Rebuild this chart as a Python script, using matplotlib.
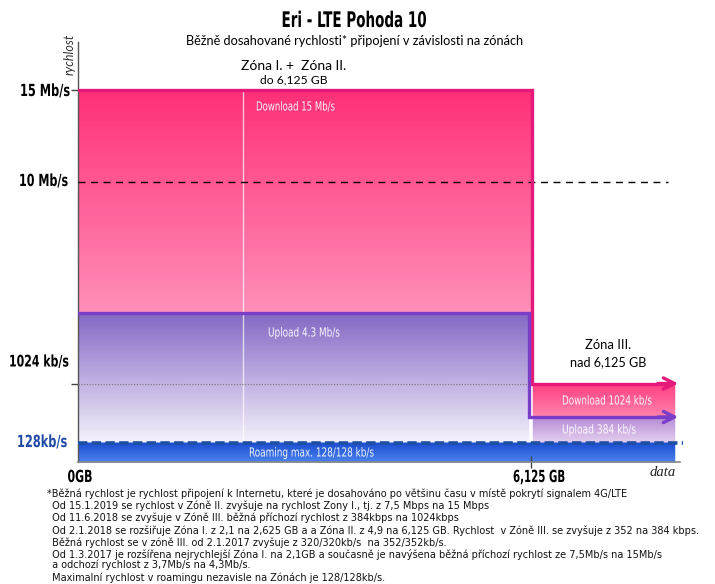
import os
import numpy as np
import matplotlib
matplotlib.use("Agg")
import matplotlib.pyplot as plt
import matplotlib.font_manager as fm
from matplotlib.colors import to_rgb
from matplotlib.patheffects import AbstractPathEffect
from matplotlib.transforms import Affine2D

# ---------------- data ----------------
zone_limit_gb = 6.125
zone12_download = 15000   # kb/s
zone12_upload = 4300      # kb/s
zone3_download = 1024     # kb/s
zone3_upload = 384        # kb/s
roaming = 128             # kb/s
ref_line_10 = 10000       # kb/s
ytick_values = [15000, 10000, 1024, 128]
ytick_labels = ["15 Mb/s", "10 Mb/s", "1024 kb/s", "128kb/s"]
footnotes = [
    "*Běžná rychlost je rychlost připojení k Internetu, které je dosahováno po většinu času v místě pokrytí signalem 4G/LTE",
    " Od 15.1.2019 se rychlost v Zóně II. zvyšuje na rychlost Zony I., tj. z 7,5 Mbps na 15 Mbps",
    " Od 11.6.2018 se zvyšuje v Zóně III. běžná příchozí rychlost z 384kbps na 1024kbps",
    " Od 2.1.2018 se rozšiřuje Zóna I. z 2,1 na 2,625 GB a a Zóna II. z 4,9 na 6,125 GB. Rychlost  v Zóně III. se zvyšuje z 352 na 384 kbps.",
    " Běžná rychlost se v zóně III. od 2.1.2017 zvyšuje z 320/320kb/s  na 352/352kb/s.",
    " Od 1.3.2017 je rozšířena nejrychlejší Zóna I. na 2,1GB a současně je navýšena běžná příchozí rychlost ze 7,5Mb/s na 15Mb/s",
    " a odchozí rychlost z 3,7Mb/s na 4,3Mb/s.",
    " Maximalní rychlost v roamingu nezavisle na Zónách je 128/128kb/s.",
]

# ---------------- fonts ----------------
COND_STRETCH = {"condensed", "semi-condensed", "extra-condensed", "ultra-condensed"}


def _weight(w):
    if isinstance(w, str):
        return fm.weight_dict.get(w, 400)
    return int(w)


def find_condensed(bold):
    prefs = ["dejavu", "roboto", "liberation", "open sans", "noto"]
    found = []
    for f in fm.fontManager.ttflist:
        n = f.name.lower()
        fn = os.path.basename(f.fname).lower()
        is_cond = ("condensed" in n or "narrow" in n or "cond" in fn or "narrow" in fn
                   or str(f.stretch) in COND_STRETCH)
        if not is_cond or f.style != "normal":
            continue
        w = _weight(f.weight)
        if bold and w < 600:
            continue
        if not bold and not (350 <= w <= 500):
            continue
        rank = next((i for i, p in enumerate(prefs) if p in n), len(prefs))
        found.append((rank, f.fname))
    if found:
        found.sort()
        return found[0][1]
    return None


cond_bold_file = find_condensed(True)
cond_reg_file = find_condensed(False)

# ---------------- figure ----------------
W, H = 715, 584
fig = plt.figure(figsize=(W / 100, H / 100), dpi=100)
fig.patch.set_facecolor("white")


def fx(x):
    return x / W


def fy(y):
    return 1 - y / H


ax_left, ax_right, ax_top, ax_bot = 78, 690, 42, 462
ax = fig.add_axes([fx(ax_left), fy(ax_bot), (ax_right - ax_left) / W, (ax_bot - ax_top) / H])

# piecewise scale of the original infographic
knot_v = np.array([0, 128, 384, 1024, 4300, 10000, 15000, 25000])
knot_p = np.array([0, 19, 45, 78.5, 149, 280, 372, 556])


def fwd(v):
    return np.interp(v, knot_v, knot_p)


def inv(p):
    return np.interp(p, knot_p, knot_v)


ax.set_yscale("function", functions=(fwd, inv))
px_per_gb = (531 - 78) / zone_limit_gb
ax.set_xlim(0, (ax_right - ax_left) / px_per_gb)
ax.set_ylim(0, inv(ax_bot - ax_top))
ax.set_facecolor("none")


def xpx(px):
    return (px - ax_left) / px_per_gb


def grad_rect(x0, x1, v0, v1, c_bot, c_top, n=90, z=1):
    ps = np.linspace(fwd(v0), fwd(v1), n + 1)
    vs = inv(ps)
    cb, ct = np.array(to_rgb(c_bot)), np.array(to_rgb(c_top))
    for i in range(n):
        f = (i + 0.5) / n
        c = cb + (ct - cb) * f
        ax.fill_between([x0, x1], vs[i], vs[i + 1], color=c, lw=0.3, edgecolor=c, zorder=z)


x_edge_dl = xpx(532)
x_edge_ul = xpx(529)
x_end = xpx(675)

# zone I+II download and upload
grad_rect(0, x_edge_dl, zone12_upload, zone12_download, "#ff90b9", "#ff2f77")
grad_rect(0, x_edge_ul, roaming, zone12_upload, "#f6f2fd", "#8468c4")
# zone III blocks
grad_rect(xpx(533), x_end, zone3_upload, zone3_download, "#ff86ae", "#ff3f82")
grad_rect(xpx(533), x_end, roaming, zone3_upload, "#e6d3f0", "#b68cd6")
# roaming band
grad_rect(0, x_end, 0, roaming, "#4c84ee", "#1e50d2")

# white separator line
ax.plot([xpx(243), xpx(243)], [roaming, zone12_download], color="white", lw=1, alpha=0.7, zorder=2)

# reference lines
ax.plot([0, xpx(668)], [ref_line_10, ref_line_10], color="black", lw=1, dashes=(5, 4), zorder=3)
ax.plot([0, x_edge_ul], [zone3_download, zone3_download], color="#777777", lw=0.8, ls=(0, (1, 1.5)), zorder=3)

# outlines and arrows
mag = "#e5197a"
pur = "#7b3cc8"
ax.plot([0, x_edge_dl, x_edge_dl, xpx(670)], [zone12_download, zone12_download, zone3_download, zone3_download],
        color=mag, lw=2.4, solid_joinstyle="miter", zorder=4)
ax.annotate("", xy=(xpx(681), zone3_download), xytext=(xpx(655), zone3_download),
            arrowprops=dict(arrowstyle="->,head_length=0.8,head_width=0.4", lw=2.4, color=mag), zorder=4)
ax.plot([0, x_edge_ul, x_edge_ul, xpx(670)], [zone12_upload, zone12_upload, zone3_upload, zone3_upload],
        color=pur, lw=2.4, solid_joinstyle="miter", zorder=4)
ax.annotate("", xy=(xpx(681), zone3_upload), xytext=(xpx(655), zone3_upload),
            arrowprops=dict(arrowstyle="->,head_length=0.8,head_width=0.4", lw=2.4, color=pur), zorder=4)

# roaming dashed line
ax.plot([0, xpx(683)], [roaming, roaming], color="#1d4fa3", lw=2.6, dashes=(2.6, 1.2), zorder=5)

# spines & ticks
for s in ["top", "right"]:
    ax.spines[s].set_visible(False)
ax.spines["left"].set_color("#555555")
ax.spines["bottom"].set_color("#888888")
ax.spines["left"].set_linewidth(1.0)
ax.spines["bottom"].set_linewidth(1.2)
ax.spines["bottom"].set_bounds(0, xpx(680))
ax.set_yticks([zone12_download, zone3_download])
ax.set_yticklabels([])
ax.yaxis.set_minor_locator(matplotlib.ticker.NullLocator())
ax.tick_params(axis="y", length=5, width=1, color="#444444")
ax.set_xticks([zone_limit_gb])
ax.set_xticklabels([])
ax.tick_params(axis="x", direction="inout", length=9, width=1, color="#444444")

# ---------------- texts ----------------
renderer = fig.canvas.get_renderer()


class Condense(AbstractPathEffect):
    """Horizontally squeeze text glyphs about the text anchor."""

    def __init__(self, text, sx):
        super().__init__()
        self.text = text
        self.sx = sx

    def draw_path(self, renderer, gc, tpath, affine, rgbFace=None):
        x0, _ = self.text.get_transform().transform(self.text.get_position())
        aff = affine + Affine2D().translate(-x0, 0).scale(self.sx, 1).translate(x0, 0)
        renderer.draw_path(gc, tpath, aff, rgbFace)


def fit(t, target_w):
    w = t.get_window_extent(renderer).width
    t.set_fontsize(t.get_fontsize() * target_w / w)
    return t


def squeeze(t, target_w):
    w = t.get_window_extent(renderer).width
    r = target_w / w
    if abs(r - 1) > 0.02:
        t.set_path_effects([Condense(t, r)])
    return t


def ctext(x, y, s, bold, fs, target_w, **kw):
    fname = cond_bold_file if bold else cond_reg_file
    if fname:
        t = fig.text(fx(x), fy(y), s, fontproperties=fm.FontProperties(fname=fname), **kw)
    else:
        t = fig.text(fx(x), fy(y), s, family="DejaVu Sans", weight="bold" if bold else "normal", **kw)
    t.set_fontsize(fs)
    return squeeze(t, target_w)


body = ["Lato", "DejaVu Sans"]

ctext(354, 21, "Eri - LTE Pohoda 10", True, 15.5, 145, ha="center", va="center")
fit(fig.text(fx(355), fy(41), "Běžně dosahované rychlosti* připojení v závislosti na zónách", ha="center",
             va="center", family=body, fontsize=9), 338)
fig.text(fx(70), fy(54), "rychlost", rotation=90, ha="center", va="center", family=body,
         style="italic", fontsize=9, color="#333333")

fit(fig.text(fx(294), fy(66), "Zóna I. +  Zóna II.", ha="center", va="center", family=body, fontsize=10), 105)
fit(fig.text(fx(294), fy(80), "do 6,125 GB", ha="center", va="center", family=body, fontsize=10), 68)
fit(fig.text(fx(608), fy(345), "Zóna III.", ha="center", va="center", family=body, fontsize=10), 46)
fit(fig.text(fx(608), fy(362), "nad 6,125 GB", ha="center", va="center", family=body, fontsize=10), 77)

# y labels (left edge, centre y, width, font size)
ylab_pos = {15000: (20, 91, 50, 12), 10000: (19, 181, 49, 12), 1024: (9, 362, 60, 11.5), 128: (17, 442, 50, 12)}
for v, lab in zip(ytick_values, ytick_labels):
    xl, yy, w, fs = ylab_pos[v]
    col = "#1f4aa5" if v == roaming else "black"
    ctext(xl, yy, lab, True, fs, w, ha="left", va="center", color=col)

# x labels
ctext(80, 477, "0GB", True, 12, 25, ha="center", va="center")
ctext(539, 477, "6,125 GB", True, 12, 52, ha="center", va="center")
fig.text(fx(663), fy(472), "data", ha="center", va="center", family=["Liberation Serif", "DejaVu Serif"],
         style="italic", fontsize=10.5, color="#222222")

# inner labels
inner = [
    ("Download 15 Mb/s", 256, 107, 79),
    ("Upload 4.3 Mb/s", 268, 333, 72),
    ("Roaming max. 128/128 kb/s", 249, 453, 125),
    ("Download 1024 kb/s", 562, 401, 90),
    ("Upload 384 kb/s", 562, 430, 74),
]
for s, xl, yy, w in inner:
    ctext(xl, yy, s, False, 9, w, ha="left", va="center", color="white", alpha=0.93)

# footnotes
foot_y = [494, 506, 518, 530.5, 542.5, 554.5, 565, 578]
foot = []
for i, line in enumerate(footnotes):
    x0 = 47 if i == 0 else 49
    foot.append(fig.text(fx(x0), fy(foot_y[i]), line, ha="left", va="center", family="DejaVu Sans",
                         fontsize=7, color="#111111"))
w3 = foot[3].get_window_extent(renderer).width
scale = 651 / w3
for t in foot:
    t.set_fontsize(t.get_fontsize() * scale)

fig.savefig("out.png", dpi=100)
